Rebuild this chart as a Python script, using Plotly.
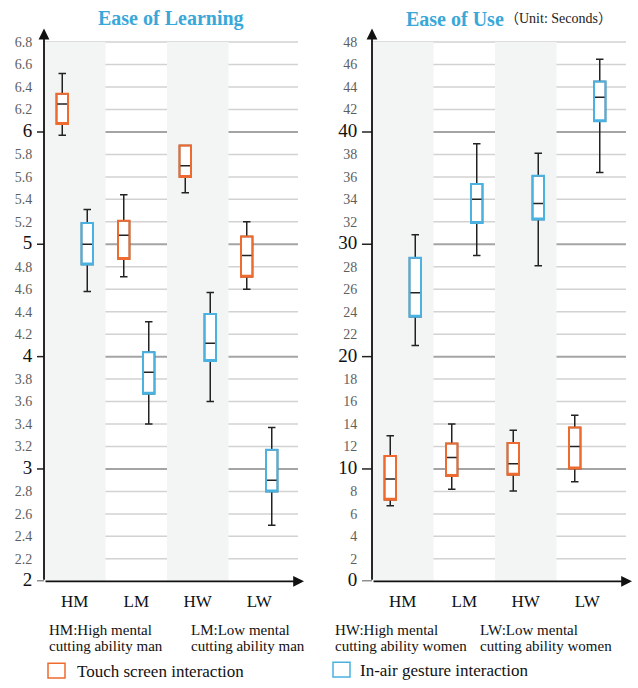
import plotly.graph_objects as go

# ---------------- data ----------------
categories = ["HM", "LM", "HW", "LW"]

# Ease of Learning
learn_touch_lower = [5.97, 4.71, 5.46, 4.60]
learn_touch_q1 = [6.07, 4.87, 5.60, 4.71]
learn_touch_median = [6.25, 5.08, 5.70, 4.90]
learn_touch_q3 = [6.34, 5.21, 5.88, 5.07]
learn_touch_upper = [6.52, 5.44, 5.88, 5.20]

learn_gesture_lower = [4.58, 3.40, 3.60, 2.50]
learn_gesture_q1 = [4.82, 3.67, 3.96, 2.80]
learn_gesture_median = [5.00, 3.86, 4.12, 2.90]
learn_gesture_q3 = [5.19, 4.04, 4.38, 3.17]
learn_gesture_upper = [5.31, 4.31, 4.57, 3.37]

# Ease of Use (seconds)
use_touch_lower = [6.73, 8.20, 8.03, 8.87]
use_touch_q1 = [7.25, 9.38, 9.49, 10.05]
use_touch_median = [9.11, 11.03, 10.47, 12.00]
use_touch_q3 = [11.15, 12.26, 12.31, 13.68]
use_touch_upper = [12.96, 14.00, 13.44, 14.79]

use_gesture_lower = [21.0, 29.0, 28.1, 36.4]
use_gesture_q1 = [23.56, 31.9, 32.2, 40.96]
use_gesture_median = [25.68, 34.0, 33.63, 43.1]
use_gesture_q3 = [28.8, 35.37, 36.1, 44.5]
use_gesture_upper = [30.84, 38.95, 38.1, 46.47]

learn_ticks = [2.0, 2.2, 2.4, 2.6, 2.8, 3.0, 3.2, 3.4, 3.6, 3.8, 4.0, 4.2, 4.4,
               4.6, 4.8, 5.0, 5.2, 5.4, 5.6, 5.8, 6.0, 6.2, 6.4, 6.6, 6.8]
learn_major = [2, 3, 4, 5, 6]
use_ticks = [0, 2, 4, 6, 8, 10, 12, 14, 16, 18, 20, 22, 24, 26, 28, 30, 32, 34,
             36, 38, 40, 42, 44, 46, 48]
use_major = [0, 10, 20, 30, 40]

desc_lines = [
    ["HM:High mental", "cutting ability man"],
    ["LM:Low mental", "cutting ability man"],
    ["HW:High mental", "cutting ability women"],
    ["LW:Low mental", "cutting ability women"],
]
legend_names = ["Touch screen interaction", "In-air gesture interaction"]

# ---------------- style ----------------
W, H = 638, 688
SERIF = "Liberation Serif"
ORANGE = "#ef6a2f"
BLUE = "#4ab1e0"
TITLE_BLUE = "#39a8d9"
BAND = "#f2f5f4"
MINOR_GRID = "#d2d2d2"
MAJOR_GRID = "#a4a4a4"

# pixel layout
L_X0, L_X1 = 44, 298
R_X0, R_X1 = 372, 626
Y_TOP, Y_BOT = 29, 589


def px_x(p):
    return p / W


def px_y(p):
    return 1 - p / H


fig = go.Figure()


def add_series(xa, ya, lo, q1, med, q3, hi, color, group):
    fig.add_trace(go.Box(
        x=categories, q1=q1, median=med, q3=q3, lowerfence=lo, upperfence=hi,
        line=dict(color="#222222", width=1.5), fillcolor="white",
        whiskerwidth=0.65, offsetgroup=group, alignmentgroup=xa,
        boxpoints=False, showlegend=False, hoverinfo="skip",
        xaxis=xa, yaxis=ya))
    fig.add_trace(go.Box(
        x=categories, q1=q1, median=q1, q3=q3, lowerfence=q1, upperfence=q3,
        line=dict(color=color, width=2), fillcolor="rgba(0,0,0,0)",
        whiskerwidth=0, offsetgroup=group, alignmentgroup=xa,
        boxpoints=False, showlegend=False, hoverinfo="skip",
        xaxis=xa, yaxis=ya))


add_series("x", "y", learn_touch_lower, learn_touch_q1, learn_touch_median,
           learn_touch_q3, learn_touch_upper, ORANGE, "touch")
add_series("x", "y", learn_gesture_lower, learn_gesture_q1, learn_gesture_median,
           learn_gesture_q3, learn_gesture_upper, BLUE, "gesture")
add_series("x2", "y2", use_touch_lower, use_touch_q1, use_touch_median,
           use_touch_q3, use_touch_upper, ORANGE, "touch")
add_series("x2", "y2", use_gesture_lower, use_gesture_q1, use_gesture_median,
           use_gesture_q3, use_gesture_upper, BLUE, "gesture")


def tick_text(ticks, majors, fmt):
    out = []
    for v in ticks:
        if any(abs(v - m) < 1e-9 for m in majors):
            out.append("<span style='font-size:19px;fill:#111111'>%d</span>" % round(v))
        else:
            out.append(fmt % v)
    return out


shapes = []
annotations = []


def decorate(xa, ya, ticks, majors, tick_px, x0px, x1px):
    dom_w = x1px - x0px
    top = ticks[-1]
    bottom = ticks[0]
    for i in (0, 2):
        shapes.append(dict(type="rect", xref=xa, yref=ya, x0=i - 0.5, x1=i + 0.5,
                           y0=bottom, y1=top, fillcolor=BAND, line=dict(width=0),
                           layer="below"))
    for v in ticks[1:]:
        if not any(abs(v - m) < 1e-9 for m in majors):
            shapes.append(dict(type="line", xref=xa + " domain", yref=ya,
                               x0=0, x1=1, y0=v, y1=v,
                               line=dict(color=MINOR_GRID, width=1.5), layer="below"))
    for m in majors:
        if m != bottom:
            shapes.append(dict(type="line", xref=xa + " domain", yref=ya,
                               x0=0, x1=1, y0=m, y1=m,
                               line=dict(color=MAJOR_GRID, width=2), layer="below"))
        shapes.append(dict(type="line", xref=xa + " domain", yref=ya,
                           x0=-tick_px / dom_w, x1=0, y0=m, y1=m,
                           line=dict(color="#222222", width=1.5)))
    annotations.append(dict(xref=xa + " domain", yref=ya + " domain",
                            axref=xa + " domain", ayref=ya + " domain",
                            x=0, y=1, ax=0, ay=0, text="", showarrow=True,
                            arrowhead=2, arrowsize=1.2, arrowwidth=1.8,
                            arrowcolor="#111111", standoff=0, startstandoff=0))
    annotations.append(dict(xref=xa + " domain", yref=ya + " domain",
                            axref=xa + " domain", ayref=ya + " domain",
                            x=1 + 6 / dom_w, y=0, ax=0, ay=0, text="", showarrow=True,
                            arrowhead=2, arrowsize=1.2, arrowwidth=1.8,
                            arrowcolor="#111111", standoff=0, startstandoff=0))


decorate("x", "y", learn_ticks, learn_major, 7, L_X0, L_X1)
decorate("x2", "y2", use_ticks, use_major, 10, R_X0, R_X1)

# titles
annotations.append(dict(xref="paper", yref="paper", x=px_x(171), y=px_y(19),
                        text="Ease of Learning", showarrow=False,
                        font=dict(family=SERIF, size=20, color=TITLE_BLUE, weight=700),
                        xanchor="center", yanchor="middle"))
annotations.append(dict(xref="paper", yref="paper", x=px_x(455), y=px_y(19),
                        text="Ease of Use", showarrow=False,
                        font=dict(family=SERIF, size=20, color=TITLE_BLUE, weight=700),
                        xanchor="center", yanchor="middle"))
annotations.append(dict(xref="paper", yref="paper", x=px_x(503), y=px_y(19),
                        text="（Unit: Seconds）", showarrow=False,
                        font=dict(family=SERIF + ", Noto Sans CJK SC", size=14, color="#222222"),
                        xanchor="left", yanchor="middle"))

# descriptions
desc_x = [47, 189, 333, 478]
for x, lines in zip(desc_x, desc_lines):
    for j, line in enumerate(lines):
        annotations.append(dict(xref="paper", yref="paper", x=px_x(x), y=px_y(638 + 17 * j),
                                text=line, showarrow=False,
                                font=dict(family=SERIF, size=15, color="#111111"),
                                xanchor="left", yanchor="middle"))

# legend
leg_sq = [(48, 672), (333, 671)]
leg_col = [ORANGE, BLUE]
leg_txt_x = [75, 358]
for (sx, sy), col, tx, name in zip(leg_sq, leg_col, leg_txt_x, legend_names):
    shapes.append(dict(type="rect", xref="paper", yref="paper",
                       x0=px_x(sx), x1=px_x(sx + 17), y0=px_y(sy + 15), y1=px_y(sy),
                       line=dict(color=col, width=1.5), fillcolor="white"))
    annotations.append(dict(xref="paper", yref="paper", x=px_x(tx), y=px_y(sy + 8),
                            text=name, showarrow=False,
                            font=dict(family=SERIF, size=17, color="#111111"),
                            xanchor="left", yanchor="middle"))

xcommon = dict(type="category", range=[-0.5, 3.63], showgrid=False, zeroline=False,
               showline=False, ticks="outside", ticklen=4, tickcolor="rgba(0,0,0,0)",
               tickfont=dict(family=SERIF, size=17, color="#111111"), fixedrange=True)
ycommon = dict(showgrid=False, zeroline=False, showline=False, ticks="outside",
               tickcolor="rgba(0,0,0,0)",
               tickfont=dict(family=SERIF, size=14, color="#5e5e5e"), fixedrange=True)

fig.update_layout(
    width=W, height=H,
    margin=dict(l=0, r=0, t=0, b=0),
    paper_bgcolor="white", plot_bgcolor="white",
    boxmode="group", boxgap=0.187, boxgroupgap=0.54,
    showlegend=False, hovermode=False,
    xaxis=dict(xcommon, domain=[px_x(L_X0), px_x(L_X1)], anchor="y"),
    yaxis=dict(ycommon, domain=[px_y(Y_BOT), px_y(Y_TOP)], anchor="x",
               range=[2, 6.92], tickvals=learn_ticks,
               ticktext=tick_text(learn_ticks, learn_major, "%.1f"), ticklen=8),
    xaxis2=dict(xcommon, domain=[px_x(R_X0), px_x(R_X1)], anchor="y2"),
    yaxis2=dict(ycommon, domain=[px_y(Y_BOT), px_y(Y_TOP)], anchor="x2",
                range=[0, 49.2], tickvals=use_ticks,
                ticktext=tick_text(use_ticks, use_major, "%d"), ticklen=11),
    shapes=shapes, annotations=annotations,
)

# remove the browser's default page margin so the figure sits at the window origin
fig.write_html("out.html", config={"displayModeBar": False},
               post_script="document.body.style.margin='0';"
                           "document.body.style.overflow='hidden';")
